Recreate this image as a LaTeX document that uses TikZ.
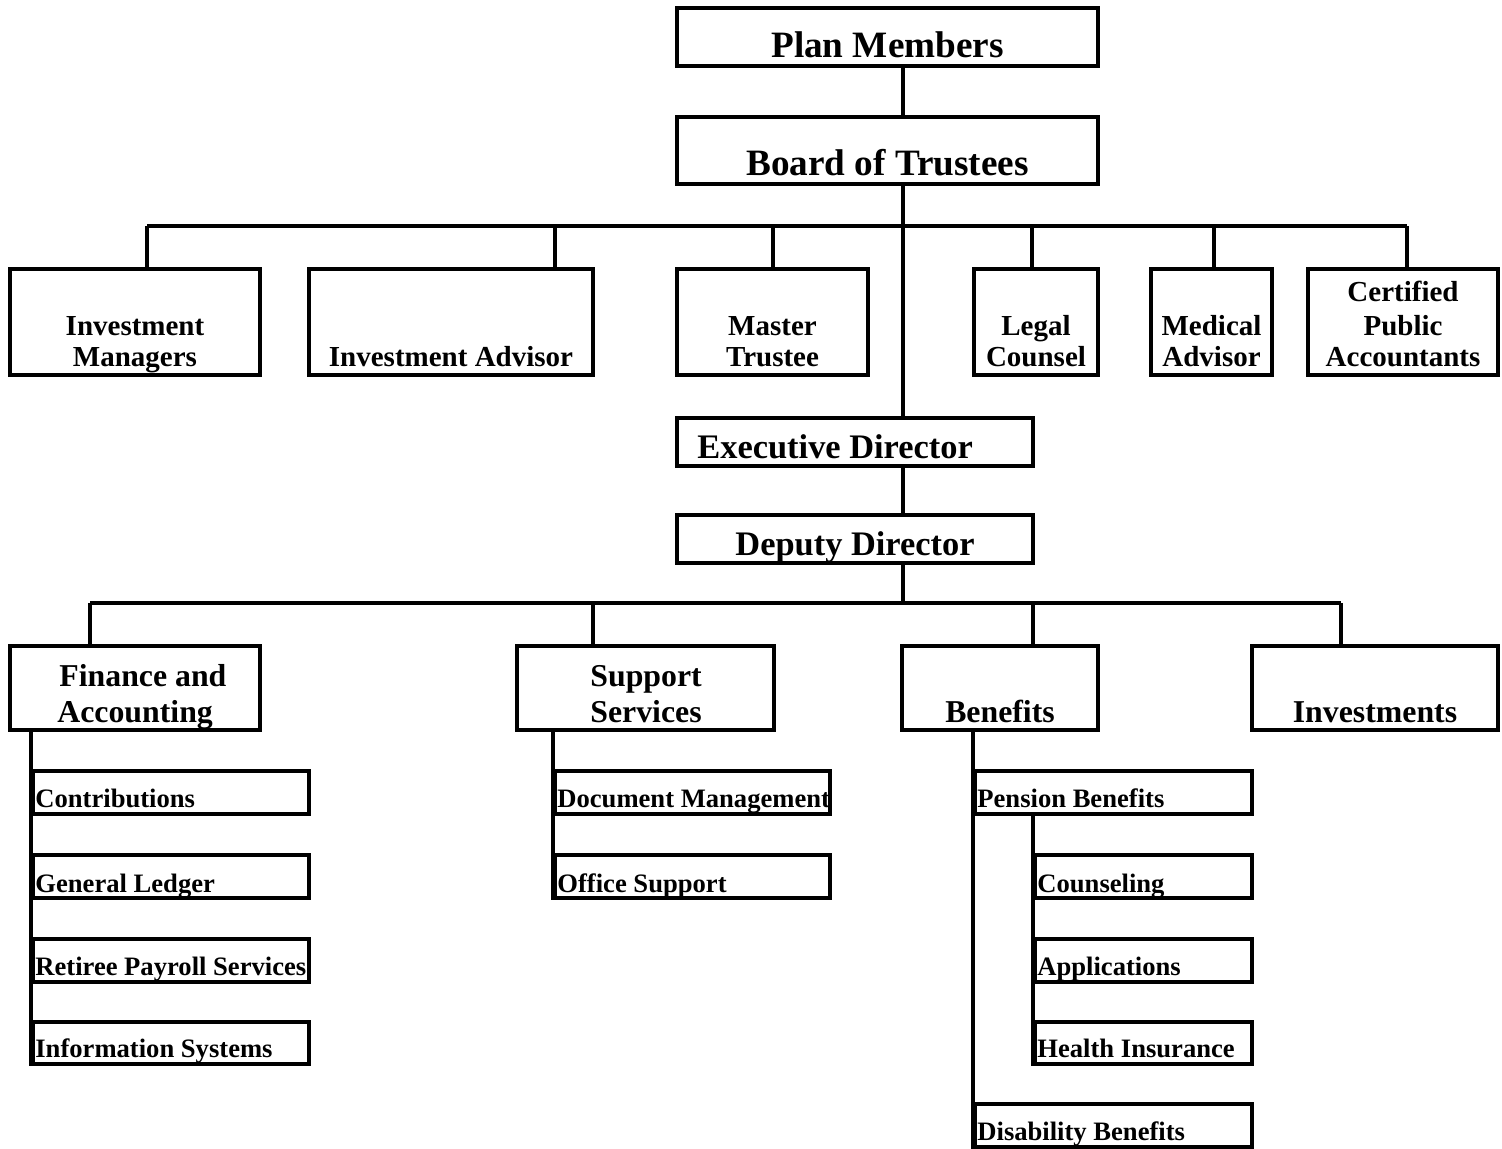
\documentclass[tikz,border=0pt]{standalone}
\usepackage{fontspec}
\setmainfont{Liberation Serif}
\begin{document}
\begin{tikzpicture}[x=0.5pt,y=-0.5pt,
  box/.style={draw=black, line width=2pt, rectangle, inner sep=0pt, fill=none},
  conn/.style={draw=black, line width=2pt},
  tA/.style={inner sep=0pt, font=\fontsize{18.6}{22}\bfseries\selectfont},
  tB/.style={inner sep=0pt, font=\fontsize{17.2}{21}\bfseries\selectfont},
  tC/.style={inner sep=0pt, font=\fontsize{14.5}{17}\bfseries\selectfont},
  tD/.style={inner sep=0pt, font=\fontsize{15.9}{19}\bfseries\selectfont},
  tE/.style={inner sep=0pt, font=\fontsize{13.3}{16}\bfseries\selectfont}]
\useasboundingbox (0,0) rectangle (1502,1148);
\fill[white] (0,0) rectangle (1502,1148);
% ---- boxes ----
\node[box, minimum width=421*0.5pt, minimum height=58*0.5pt] (pm) at (887.5,37) {};
\node[box, minimum width=421*0.5pt, minimum height=67*0.5pt] (bt) at (887.5,150.5) {};
\node[box, minimum width=250*0.5pt, minimum height=106*0.5pt] (im) at (135,322) {};
\node[box, minimum width=284*0.5pt, minimum height=106*0.5pt] (ia) at (451,322) {};
\node[box, minimum width=191*0.5pt, minimum height=106*0.5pt] (mt) at (772.5,322) {};
\node[box, minimum width=124*0.5pt, minimum height=106*0.5pt] (lc) at (1036,322) {};
\node[box, minimum width=121*0.5pt, minimum height=106*0.5pt] (ma) at (1211.5,322) {};
\node[box, minimum width=190*0.5pt, minimum height=106*0.5pt] (cpa) at (1403,322) {};
\node[box, minimum width=356*0.5pt, minimum height=48*0.5pt] (ed) at (855,442) {};
\node[box, minimum width=356*0.5pt, minimum height=48*0.5pt] (dd) at (855,539) {};
\node[box, minimum width=250*0.5pt, minimum height=84*0.5pt] (fa) at (135,688) {};
\node[box, minimum width=257*0.5pt, minimum height=84*0.5pt] (ss) at (645.5,688) {};
\node[box, minimum width=196*0.5pt, minimum height=84*0.5pt] (bn) at (1000,688) {};
\node[box, minimum width=246*0.5pt, minimum height=84*0.5pt] (inv) at (1375,688) {};
% finance leaves
\node[box, minimum width=276*0.5pt, minimum height=43*0.5pt] (co) at (171,792.5) {};
\node[box, minimum width=276*0.5pt, minimum height=43*0.5pt] (gl) at (171,876.5) {};
\node[box, minimum width=276*0.5pt, minimum height=43*0.5pt] (rp) at (171,960.5) {};
\node[box, minimum width=276*0.5pt, minimum height=42*0.5pt] (is) at (171,1043) {};
% support leaves
\node[box, minimum width=275*0.5pt, minimum height=43*0.5pt] (dm) at (692.5,792.5) {};
\node[box, minimum width=275*0.5pt, minimum height=43*0.5pt] (os) at (692.5,876.5) {};
% benefits leaves
\node[box, minimum width=277*0.5pt, minimum height=43*0.5pt] (pb) at (1113.5,792.5) {};
\node[box, minimum width=217*0.5pt, minimum height=43*0.5pt] (cs) at (1143.5,876.5) {};
\node[box, minimum width=217*0.5pt, minimum height=43*0.5pt] (ap) at (1143.5,960.5) {};
\node[box, minimum width=217*0.5pt, minimum height=42*0.5pt] (hi) at (1143.5,1043) {};
\node[box, minimum width=277*0.5pt, minimum height=43*0.5pt] (db) at (1113.5,1125.5) {};
% ---- texts ----
\node[tA, anchor=base] (pmT) at (887.5,57) {Plan Members};
\node[tA, anchor=base] (btT) at (887.5,175) {Board of Trustees};
\node[tC, anchor=base] (imT1) at (135,335) {Investment};
\node[tC, anchor=base] (imT2) at (135,366) {Managers};
\node[tC, anchor=base] (iaT) at (451,366) {Investment Advisor};
\node[tC, anchor=base] (mtT1) at (772.5,335) {Master};
\node[tC, anchor=base] (mtT2) at (772.5,366) {Trustee};
\node[tC, anchor=base] (lcT1) at (1036,335) {Legal};
\node[tC, anchor=base] (lcT2) at (1036,366) {Counsel};
\node[tC, anchor=base] (maT1) at (1211.5,335) {Medical};
\node[tC, anchor=base] (maT2) at (1211.5,366) {Advisor};
\node[tC, anchor=base] (cpaT1) at (1403,301) {Certified};
\node[tC, anchor=base] (cpaT2) at (1403,335) {Public};
\node[tC, anchor=base] (cpaT3) at (1403,366) {Accountants};
\node[tB, anchor=base west] (edT) at (697,458) {Executive Director};
\node[tB, anchor=base] (ddT) at (855,555) {Deputy Director};
\node[tD, anchor=base west] (faT1) at (59,686) {Finance and};
\node[tD, anchor=base west] (faT2) at (57,722) {Accounting};
\node[tD, anchor=base west] (ssT1) at (590,686) {Support};
\node[tD, anchor=base west] (ssT2) at (590,722) {Services};
\node[tD, anchor=base] (bnT) at (1000,722) {Benefits};
\node[tD, anchor=base] (invT) at (1375,722) {Investments};
\node[tE, anchor=base west] (coT) at (35,807) {Contributions};
\node[tE, anchor=base west] (glT) at (35,892) {General Ledger};
\node[tE, anchor=base west] (rpT) at (35,975) {Retiree Payroll Services};
\node[tE, anchor=base west] (isT) at (35,1057) {Information Systems};
\node[tE, anchor=base west] (dmT) at (557,807) {Document Management};
\node[tE, anchor=base west] (osT) at (557,892) {Office Support};
\node[tE, anchor=base west] (pbT) at (977,807) {Pension Benefits};
\node[tE, anchor=base west] (csT) at (1037,892) {Counseling};
\node[tE, anchor=base west] (apT) at (1037,975) {Applications};
\node[tE, anchor=base west] (hiT) at (1037,1057) {Health Insurance};
\node[tE, anchor=base west] (dbT) at (977,1140) {Disability Benefits};
% ---- connectors ----
\coordinate (xT) at (903,0);
\draw[conn] (pm.south -| xT) -- (bt.north -| xT);
\draw[conn] (bt.south -| xT) -- (ed.north -| xT);
\draw[conn] (ed.south -| xT) -- (dd.north -| xT);
% top bus
\coordinate (dIM) at (147,226);
\coordinate (dIA) at (555,226);
\coordinate (dMT) at (773,226);
\coordinate (dLC) at (1032,226);
\coordinate (dMA) at (1214,226);
\coordinate (dCPA) at (1407,226);
\draw[conn] (dIM) -- (dCPA);
\draw[conn] (dIM) -- (dIM |- im.north);
\draw[conn] (dIA) -- (dIA |- ia.north);
\draw[conn] (dMT) -- (dMT |- mt.north);
\draw[conn] (dLC) -- (dLC |- lc.north);
\draw[conn] (dMA) -- (dMA |- ma.north);
\draw[conn] (dCPA) -- (dCPA |- cpa.north);
% bottom bus
\coordinate (dFA) at (90,603);
\coordinate (dSS) at (593,603);
\coordinate (dBN) at (1033,603);
\coordinate (dINV) at (1341,603);
\draw[conn] (dd.south -| xT) -- (dFA -| xT);
\draw[conn] (dFA) -- (dINV);
\draw[conn] (dFA) -- (dFA |- fa.north);
\draw[conn] (dSS) -- (dSS |- ss.north);
\draw[conn] (dBN) -- (dBN |- bn.north);
\draw[conn] (dINV) -- (dINV |- inv.north);
% sub-lines
\draw[conn] (fa.south -| is.west) -- (is.south west);
\draw[conn] (ss.south -| os.west) -- (os.south west);
\draw[conn] (bn.south -| db.west) -- (db.south west);
\draw[conn] (pb.south -| hi.west) -- (hi.south west);
\end{tikzpicture}
\end{document}
